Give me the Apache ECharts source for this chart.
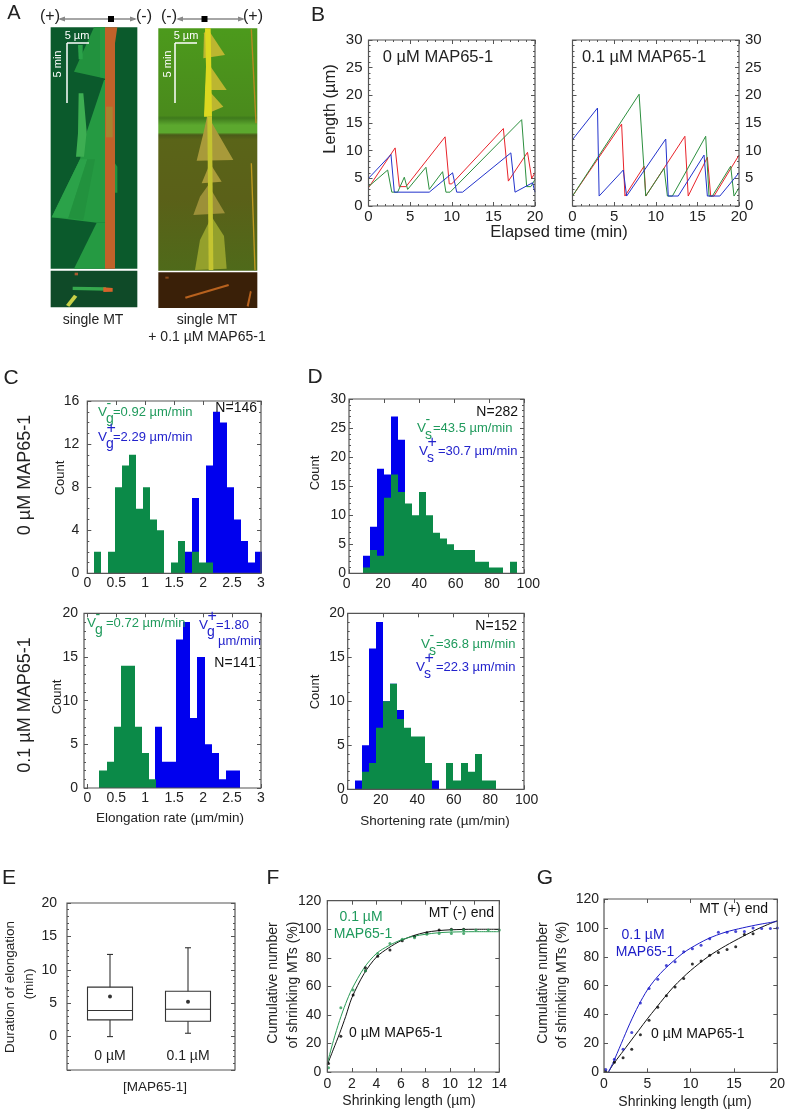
<!DOCTYPE html>
<html><head><meta charset="utf-8">
<style>html,body{margin:0;padding:0;background:#fff}#c{width:789px;height:1114px}</style>
<script src="https://cdn.jsdelivr.net/npm/echarts@6/dist/echarts.min.js"></script>
</head><body><div id="c"></div>
<script>
// ---------- data ----------
const bLeftRed   = [[0,3.3],[3.2,10.5],[3.7,3.5],[4.5,3.5],[9.2,12.5],[9.7,4],[10,4],[16.2,14],[16.8,4.5],[19.1,9.7],[19.6,5],[20,6]];
const bLeftGreen = [[0,3.5],[2.3,6.5],[2.8,2.5],[3.5,2.5],[4.3,5.2],[4.7,3],[6.9,7],[7.3,3],[8.9,6.2],[9.3,2.5],[9.8,2.5],[18.4,15.6],[19,3.5],[19.5,3.5],[20,4.8]];
const bLeftBlue  = [[0,5],[2.7,9.3],[3.1,2.5],[7.3,2.5],[10.1,6],[10.6,2.5],[11.3,2.5],[17.1,9.6],[17.6,2.5],[19.7,4.2],[20,2.5]];
const bRightRed   = [[0,1.8],[5.9,14.8],[6.3,1.8],[8.6,7.2],[8.8,1.8],[13.5,12.6],[13.9,1.8],[16.2,8.8],[16.6,1.8],[17,1.8],[20,9.2]];
const bRightGreen = [[0,1.8],[8,20.2],[8.8,1.8],[11,6.8],[11.4,1.8],[12,1.8],[16,12.6],[16.4,1.8],[16.8,1.8],[19,7.2],[19.4,1.8],[20,3.3]];
const bRightBlue  = [[0,12],[3,17.7],[3.2,1.8],[6.1,6.5],[6.5,1.8],[11.2,12.1],[11.5,1.8],[12.7,1.8],[15.8,9.2],[16.2,1.8],[17.7,1.8],[20,6]];

const cTopGreen = [0,2,0,2,8,10,11,6,8,5,4,0,1,3,0,2,1,1];
const cTopBlue  = [0,0,0,0,0,0,0,0,0,0,0,0,0,0,2,7,0,10,15,14,8,5,3,1,2];
const cTopBin = 0.1205;
const cBotGreen = [2,3,7,14,14,7,4,1];
const cBotBlue  = [7,3,3,17,19,8,15,5,4,1,2,2];
const cBotGreenStart = 0.21, cBotBlueStart = 1.167, cBotBin = 0.1225;

const dTopGreen = [1,4,3,13,17,14,12,10,14,10,7,6,5,4,4,4,2,2,1,1,0,2];
const dTopBlue  = [3,8,18,17,27,23];
const dTopStart = 8, dBin = 4;
const dBotGreen = [0,2,3,7,10,12,8,7,6,6,3,0,0,3,1,3,2,4,1,1];
const dBotBlue  = [1,5,16,19,10,12,9,0,0,0,0,1];
const dBotGreenStart = 4, dBotBlueStart = 4;

const eCats = ['0 µM','0.1 µM'];
const eBoxes = [[0,2.5,3.9,7.4,12.3],[0.5,2.3,4.1,6.8,13.3]];
const eMeans = [6.0,5.2];

const fBlackPts = [[0.1,6],[1.1,25],[2.1,54],[3.1,73],[3.1,71],[4.1,81],[5.1,85.5],[6.1,92],[7.1,95],[8.1,97.5],[9.1,99.5],[10.1,100],[11.1,100]];
const fGreenPts = [[0.1,3],[1.1,45],[2.1,57.5],[3.1,71],[4.1,83],[5.1,90],[6.1,93],[7.1,94],[8.1,96.5],[9.1,97],[10.1,97],[11.1,97],[10.1,99.5],[11.1,99.5],[12.1,99.5],[13.1,99.5],[14,99.5]];
const fBlackCurve = [[0,5],[0.5,16],[1,27],[1.5,39],[2,52],[3,69],[4,80.5],[5,87],[6,92],[7,95.5],[8,97.8],[9,99],[10,99.6],[12,100],[14,100]];
const fGreenCurve = [[0,6],[0.5,22],[1,36],[1.5,48],[2,58],[3,73],[4,83],[5,88.5],[6,92.5],[7,95],[8,96.5],[9,97.5],[10,98],[12,98.3],[14,98.3]];

const gBluePts = [[0.2,2],[1.2,9],[2.2,16],[3.2,27.5],[4.2,48],[5.2,58],[6.2,64.5],[7.2,74],[8.2,76.5],[9.2,83.5],[10.2,85.5],[11.2,88],[12.2,92.5],[13.2,97],[14.2,97],[15.2,97.5],[16.2,97.5],[17.2,100],[18.2,99.5],[19.2,99.5],[20,100]];
const gBlackPts = [[0.2,0.5],[1.2,7],[2.2,10],[3.2,16],[4.2,26],[5.2,36],[6.2,45],[7.2,53],[8.2,59],[9.2,65],[10.2,75],[11.2,77],[12.2,81],[13.2,83],[14.2,85],[15.2,87],[16.2,95.5],[17.2,96]];
const gBlueCurve = [[0.5,0],[1,6],[2,20],[3,34],[4,46.5],[5,57],[6,65],[7,71.5],[8,77],[9,82],[10,86],[12,92.5],[14,97],[16,100],[18,102.5],[20,104.5]];
const gBlackCurve = [[0.5,0],[1,5],[2,13],[3,21],[4,29],[5,37],[6,44.5],[7,52],[8,59],[9,65],[10,70.5],[12,80],[14,87.5],[16,94],[18,100],[20,105]];

// ---------- helpers ----------
const FF = '"Liberation Sans", Arial, sans-serif';
const GREEN='#0b8a48', BLUE='#0000ee', TGREEN='#1f9a5c', TBLUE='#2222cc', INK='#222', FRAME='#555';
const grids=[], xAxes=[], yAxes=[], series=[], gfx=[];

function t(text,x,y,o){o=o||{};
  gfx.push({type:'text',x:x,y:y,rotation:o.rot?Math.PI/2:0,z:30,silent:true,
    style:{text:text,fill:o.color||INK,font:(o.size||14)+'px '+FF,
      textAlign:o.align||'center',textVerticalAlign:'middle'}});
}
function vLab(x,y,color,sub,sup,rest,restX,size){
  t('V',x,y,{color,size:size||13.5,align:'left'});
  t(sup,x+8.5,y-(sup==='+'?8:8),{color,size:sup==='+'?16:14,align:'left'});
  t(sub,x+8,y+7,{color,size:14,align:'left'});
  t(rest,restX,y,{color,size:size||13,align:'left'});
}
function poly(pts,fill){
  gfx.push({type:'polygon',z:1,silent:true,shape:{points:pts.map(p=>[p[0]/3,p[1]/3])},style:{fill:fill}});
}
function rect(x0,y0,x1,y1,fill){
  gfx.push({type:'rect',z:0,silent:true,shape:{x:x0/3,y:y0/3,width:(x1-x0)/3,height:(y1-y0)/3},style:{fill:fill}});
}
function wline(x1,y1,x2,y2){
  gfx.push({type:'line',z:5,silent:true,shape:{x1,y1,x2,y2},style:{stroke:'#fff',lineWidth:1.5}});
}
function panel(c){
  const gi=grids.length, fl=c.frameL==null?c.l:c.frameL, fr=c.frameR==null?c.r:c.frameR;
  grids.push({left:c.l,top:c.t,width:c.r-c.l,height:c.b-c.t,containLabel:false,outerBoundsMode:'none'});
  gfx.push({type:'rect',z:20,silent:true,shape:{x:fl,y:c.t,width:fr-fl,height:c.b-c.t},style:{fill:'none',stroke:FRAME,lineWidth:1.2}});
  const fs=c.fs||14, lab={fontFamily:FF,fontSize:fs,color:INK};
  const xBase=c.xCat?{type:'category',data:c.xCat}:{type:'value',min:c.xMin,max:c.xMax,interval:c.xInt};
  const xi=xAxes.length, yi=yAxes.length;
  const tick={show:!c.xCat,inside:true,length:4,lineStyle:{color:FRAME}};
  const minor={show:!!c.xMinor&&!c.xCat,splitNumber:c.xMinor||1,length:2,lineStyle:{color:FRAME}};
  xAxes.push(Object.assign({},xBase,{gridIndex:gi,position:'bottom',axisLine:{show:false,onZero:false},axisTick:tick,minorTick:minor,splitLine:{show:false},
    axisLabel:Object.assign({},lab,{show:!c.labelSpan,margin:c.xMargin==null?5:c.xMargin,inside:!!c.xCat,hideOverlap:false,showMinLabel:true,showMaxLabel:true})}));
  xAxes.push(Object.assign({},xBase,{gridIndex:gi,position:'top',axisLine:{show:false,onZero:false},axisTick:tick,minorTick:minor,splitLine:{show:false},axisLabel:{show:false}}));
  const ytick={show:true,inside:true,length:4,lineStyle:{color:FRAME}};
  const yminor={show:!!c.yMinor,splitNumber:c.yMinor||1,length:2,lineStyle:{color:FRAME}};
  const yBase={type:'value',min:c.yMin,max:c.yMax,interval:c.yInt,splitLine:{show:false},axisTick:ytick,minorTick:yminor};
  const yLab=Object.assign({},lab,{margin:c.yMargin==null?5:c.yMargin,hideOverlap:false,showMinLabel:true,showMaxLabel:true,
    padding:[0,0,(c.yLift||0)*2,0],formatter:v=>v<0?'':String(v)});
  yAxes.push(Object.assign({},yBase,{gridIndex:gi,position:'left',offset:c.l-fl,axisLine:{show:false,onZero:false},
    axisLabel:Object.assign({},yLab,{show:c.leftLabels!==false})}));
  yAxes.push(Object.assign({},yBase,{gridIndex:gi,position:'right',offset:fr-c.r,axisLine:{show:false,onZero:false},
    axisLabel:Object.assign({},yLab,{show:!!c.rightLabels})}));
  if(c.labelSpan){ // tick labels stand slightly off the plot scale in the reference
    const g2=grids.length;
    grids.push({left:c.labelSpan[0],width:c.labelSpan[1]-c.labelSpan[0],top:c.t,height:c.b-c.t,containLabel:false,outerBoundsMode:'none'});
    xAxes.push({type:'value',gridIndex:g2,position:'bottom',min:c.xMin,max:c.xMax,interval:c.xInt,axisLine:{show:false,onZero:false},axisTick:{show:false},splitLine:{show:false},
      axisLabel:Object.assign({},lab,{margin:c.xMargin==null?5:c.xMargin,showMinLabel:true,showMaxLabel:true})});
    yAxes.push({type:'value',gridIndex:g2,min:0,max:1,show:false});
  }
  return {x:xi,y:yi};
}
function hist(ax,color,start,w,counts,z){
  const data=counts.map((n,i)=>[start+i*w,start+(i+1)*w,n]);
  series.push({type:'custom',xAxisIndex:ax.x,yAxisIndex:ax.y,z:z,clip:true,encode:{x:[0,1],y:2},data:data,
    renderItem:(p,api)=>{
      const a=api.coord([api.value(0),api.value(2)]), b=api.coord([api.value(1),0]);
      const x0=Math.round(a[0]), x1=Math.round(b[0]);
      return {type:'rect',shape:{x:x0,y:a[1],width:x1-x0,height:b[1]-a[1]},style:{fill:color}};
    }});
}
function line(ax,data,color,opt){
  series.push(Object.assign({type:'line',xAxisIndex:ax.x,yAxisIndex:ax.y,data:data,showSymbol:false,symbol:'none',z:5,lineStyle:{color:color,width:1},clip:true},opt||{}));
}
function dots(ax,data,color,size){
  series.push({type:'scatter',xAxisIndex:ax.x,yAxisIndex:ax.y,data:data,symbolSize:size||3,itemStyle:{color:color},z:6,clip:false});
}

// ---------- panel A (micrographs, drawn as shapes) ----------
t('A',14,13,{size:20});
t('(+)',50,17,{size:16}); t('(-)',144,17,{size:16}); t('(-)',169,17,{size:16}); t('(+)',253,17,{size:16});
[[60,135,111],[178,243,204.5]].forEach(a=>{
  gfx.push({type:'line',z:2,silent:true,shape:{x1:a[0],y1:19,x2:a[1],y2:19},style:{stroke:'#888',lineWidth:1.5}});
  gfx.push({type:'polygon',z:2,silent:true,shape:{points:[[a[0]-2,19],[a[0]+5,16.5],[a[0]+5,21.5]]},style:{fill:'#888'}});
  gfx.push({type:'polygon',z:2,silent:true,shape:{points:[[a[1]+2,19],[a[1]-5,16.5],[a[1]-5,21.5]]},style:{fill:'#888'}});
  gfx.push({type:'rect',z:3,silent:true,shape:{x:a[2]-3,y:16,width:6,height:6},style:{fill:'#000'}});
});
// left kymograph
rect(152,82,412,806,'#0b5a2c');
const LG='#259a42', LG2='#2ba249', LG3='#22923e';
poly([[282,82],[322,82],[318,236],[222,215]],LG3);
poly([[300,82],[318,82],[318,236],[300,232]],LG);
poly([[234,135],[248,135],[248,178],[236,178]],LG2);
poly([[312,240],[318,240],[318,668],[290,668],[155,652],[240,478],[252,420]],LG);
poly([[240,478],[262,478],[205,654],[155,652]],LG2);
poly([[262,478],[285,478],[250,660],[205,654]],LG3);
poly([[236,280],[250,280],[260,395],[252,470],[228,470],[234,400]],'#3dae52');
poly([[290,668],[318,668],[318,806],[222,806]],LG);
poly([[338,480],[352,500],[352,578],[338,578]],LG3);
poly([[315,82],[352,82],[345,130],[345,806],[315,806]],'#c0622a');
poly([[318,320],[338,320],[338,412],[318,412]],'#a8822f');
rect(152,812,412,922,'#0f4a28');
poly([[218,860],[318,862],[318,872],[218,870]],'#36a84e');
poly([[310,862],[338,864],[338,875],[310,876]],'#d8622a');
poly([[198,915],[222,884],[232,890],[208,920]],'#c8d048');
poly([[224,818],[234,818],[234,826],[224,826]],'#a85a30');
wline(67,43,67,103); wline(67,43,89,43);
t('5 µm',77,36,{size:11,color:'#fff'});
t('5 min',58,64,{size:11,color:'#fff',rot:true});
t('single MT',93,320,{size:14});
// right kymograph
gfx.push({type:'rect',z:0,silent:true,shape:{x:158.3,y:28.3,width:99,height:242.4},
  style:{fill:{type:'linear',x:0,y:0,x2:0,y2:1,colorStops:[{offset:0,color:'#4c9a1c'},{offset:.36,color:'#4a8a1c'},{offset:.37,color:'#3f7a1c'},{offset:.4,color:'#5ca82e'},{offset:.43,color:'#5ca82e'},{offset:.44,color:'#4a5a18'},{offset:.46,color:'#5a6418'},{offset:.7,color:'#5a6018'},{offset:1,color:'#4f6a1a'}]}}});
poly([[622,85],[675,165],[610,175],[612,100]],'#bcb630');
poly([[625,190],[680,270],[615,270]],'#bcb630');
poly([[625,270],[670,320],[612,345]],'#bcb630');
poly([[622,345],[700,480],[590,482],[612,392]],'#a89a3a');
poly([[630,490],[665,545],[605,550]],'#a89a3a');
poly([[625,555],[675,640],[580,645],[600,590]],'#9c9038');
poly([[635,650],[672,708],[680,806],[585,810],[600,720]],'#94a02c');
poly([[615,85],[632,85],[636,350],[612,350],[618,200]],'#dcd820');
poly([[622,350],[636,350],[640,810],[626,810]],'#c4c430');
poly([[752,88],[756,88],[770,370],[766,370]],'#b88a20');
poly([[752,490],[756,490],[767,810],[763,810]],'#c09a20');
rect(475,817,772,924,'#3a2008');
poly([[555,890],[685,852],[687,858],[557,896]],'#b8621e');
poly([[740,918],[750,872],[755,875],[746,920]],'#b8621e');
poly([[496,830],[506,830],[506,836],[496,836]],'#8a4a18');
wline(175,43,175,103); wline(175,43,197,43);
t('5 µm',186,36,{size:11,color:'#fff'});
t('5 min',168,64,{size:11,color:'#fff',rot:true});
t('single MT',207,320,{size:14});
t('+ 0.1 µM MAP65-1',207,337,{size:14});

// ---------- panel B ----------
t('B',318,15,{size:21});
const bL=panel({l:368.5,r:535,t:40,b:206,xMin:0,xMax:20,xInt:5,xMinor:5,yMin:0,yMax:30,yInt:5,yMinor:5,fs:15,xMargin:3,yMargin:6});
const bR=panel({l:572.5,r:739,t:40,b:206,xMin:0,xMax:20,xInt:5,xMinor:5,yMin:0,yMax:30,yInt:5,yMinor:5,fs:15,xMargin:3,yMargin:6,leftLabels:false,rightLabels:true});
line(bL,bLeftRed,'#e8232a'); line(bL,bLeftGreen,'#2c8f3e'); line(bL,bLeftBlue,'#2233cc');
line(bR,bRightRed,'#e8232a'); line(bR,bRightGreen,'#2c8f3e'); line(bR,bRightBlue,'#2233cc');
t('0 µM MAP65-1',438,57,{size:16.5}); t('0.1 µM MAP65-1',644,57,{size:16.5});
t('Length (µm)',330,109,{size:16.5,rot:true});
t('Elapsed time (min)',559,232,{size:16.5});

// ---------- panel C ----------
t('C',11,378,{size:21});
const cT=panel({l:87.3,r:261,t:401,b:573.3,xMin:0,xMax:3,xInt:0.5,yMin:0,yMax:16,yInt:4,yMinor:4,fs:14,xMargin:3,yMargin:8,yLift:3});
hist(cT,BLUE,0,cTopBin,cTopBlue,3); hist(cT,GREEN,0,cTopBin,cTopGreen,4);
vLab(98,412,TGREEN,'g','-','=0.92 µm/min',113);
vLab(98,437,TBLUE,'g','+','=2.29 µm/min',113);
t('N=146',257,408,{size:14,align:'right',color:'#111'});
t('Count',60,478,{size:13,rot:true});
t('0 µM MAP65-1',25,475,{size:18,rot:true});

const cB=panel({l:87.3,r:261,frameL:84,t:613.3,b:788,xMin:0,xMax:3,xInt:0.5,yMin:0,yMax:20,yInt:5,yMinor:5,fs:14,xMargin:3,yMargin:6,yLift:2.5});
hist(cB,BLUE,cBotBlueStart,cBotBin,cBotBlue,3); hist(cB,GREEN,cBotGreenStart,cBotBin,cBotGreen,4);
vLab(87,623,TGREEN,'g','-','=0.72 µm/min',106);
vLab(199,625,TBLUE,'g','+','=1.80',216);
t('µm/min',218,641,{size:13,align:'left',color:TBLUE});
t('N=141',256,663,{size:14,align:'right',color:'#111'});
t('Count',57,697,{size:13,rot:true});
t('0.1 µM MAP65-1',25,705,{size:18,rot:true});
t('Elongation rate (µm/min)',170,818,{size:13.5});

// ---------- panel D ----------
t('D',315,377,{size:21});
const dT=panel({l:349,r:524,t:399,b:573.3,xMin:0,xMax:100,xInt:20,yMin:0,yMax:30,yInt:5,yMinor:5,fs:14,xMargin:4,yMargin:3,yLift:2.5,labelSpan:[346.7,528.3]});
hist(dT,BLUE,dTopStart,dBin,dTopBlue,3); hist(dT,GREEN,dTopStart,dBin,dTopGreen,4);
t('N=282',518,412,{size:14,align:'right',color:'#111'});
vLab(417,428,TGREEN,'s','-','=43.5 µm/min',433);
vLab(419,451,TBLUE,'s','+','=30.7 µm/min',438);
t('Count',315,473,{size:13,rot:true});

const dB=panel({l:347.7,r:524,t:613.3,b:789.3,xMin:0,xMax:100,xInt:20,yMin:0,yMax:20,yInt:5,yMinor:5,fs:14,xMargin:4,yMargin:3,yLift:2.5,labelSpan:[344.3,526.7]});
hist(dB,BLUE,dBotBlueStart,dBin,dBotBlue,3); hist(dB,GREEN,dBotGreenStart,dBin,dBotGreen,4);
t('N=152',517,626,{size:14,align:'right',color:'#111'});
vLab(421,644,TGREEN,'s','-','=36.8 µm/min',436);
vLab(416,667,TBLUE,'s','+','=22.3 µm/min',436);
t('Count',315,692,{size:13,rot:true});
t('Shortening rate (µm/min)',435,821,{size:13.5});

// ---------- panel E ----------
t('E',9,878,{size:21});
const eA=panel({l:71,r:227,frameL:67,frameR:235,t:903,b:1070,xCat:eCats,yMin:-5,yMax:20,yInt:5,yMinor:5,fs:14,xMargin:7,yMargin:10,yLift:3});
series.push({type:'custom',xAxisIndex:eA.x,yAxisIndex:eA.y,z:5,clip:false,encode:{x:0,y:[1,2,3,4,5]},
  data:eBoxes.map((b,i)=>[i].concat(b)),
  renderItem:(p,api)=>{
    const i=api.value(0), P=v=>api.coord([i,api.value(v)]);
    const mn=P(1),q1=P(2),md=P(3),q3=P(4),mx=P(5),hw=22.5,cap=3;
    const s={stroke:'#333',lineWidth:1.1,fill:null};
    const L=(x1,y1,x2,y2)=>({type:'line',shape:{x1,y1,x2,y2},style:s});
    return {type:'group',children:[
      L(mn[0],mn[1],mn[0],q1[1]),L(mn[0],q3[1],mn[0],mx[1]),
      L(mn[0]-cap,mn[1],mn[0]+cap,mn[1]),L(mn[0]-cap,mx[1],mn[0]+cap,mx[1]),
      {type:'rect',shape:{x:q3[0]-hw,y:q3[1],width:hw*2,height:q1[1]-q3[1]},style:s},
      L(md[0]-hw,md[1],md[0]+hw,md[1])
    ]};
  }});
dots(eA,eMeans.map((m,i)=>[i,m]),'#000',4);
t('Duration of elongation',10,987,{size:13.5,rot:true});
t('(min)',29,984,{size:13.5,rot:true});
t('[MAP65-1]',155,1087,{size:13.5});

// ---------- panel F ----------
t('F',273,878,{size:21});
const fA=panel({l:327.3,r:499.3,t:900.7,b:1072,xMin:0,xMax:14,xInt:2,yMin:0,yMax:120,yInt:20,fs:14,xMargin:5,yMargin:6,yLift:2});
line(fA,fBlackCurve,'#111',{smooth:0.3}); line(fA,fGreenCurve,'#2a9a55',{smooth:0.3});
dots(fA,fBlackPts,'#000',3); dots(fA,fGreenPts,'#2a9a55',3);
t('Cumulative number',273,983,{size:14,rot:true});
t('of shrinking MTs (%)',293,985,{size:14,rot:true});
t('0.1 µM',361,917,{size:14,color:TGREEN}); t('MAP65-1',363,934,{size:14,color:TGREEN});
t('MT (-) end',494,913,{size:14,align:'right',color:'#111'});
t('0 µM MAP65-1',349,1033,{size:14,align:'left',color:'#111'});
t('Shrinking length (µm)',409,1101,{size:14});

// ---------- panel G ----------
t('G',545,878,{size:21});
const gA=panel({l:604,r:777.3,t:899,b:1072.3,xMin:0,xMax:20,xInt:5,yMin:0,yMax:120,yInt:20,fs:14,xMargin:5,yMargin:5,yLift:1});
line(gA,gBlackCurve,'#111',{smooth:0.3}); line(gA,gBlueCurve,'#1c1cc8',{smooth:0.3});
dots(gA,gBlackPts,'#000',3); dots(gA,gBluePts,'#1c1cc8',3);
t('Cumulative number',543,983,{size:14,rot:true});
t('of shrinking MTs (%)',562,985,{size:14,rot:true});
t('0.1 µM',643,935,{size:14,color:'#1c1cc8'}); t('MAP65-1',645,952,{size:14,color:'#1c1cc8'});
t('MT (+) end',768,909,{size:14,align:'right',color:'#111'});
t('0 µM MAP65-1',651,1034,{size:14,align:'left',color:'#111'});
t('Shrinking length (µm)',685,1102,{size:14});

const chart=echarts.init(document.getElementById('c'),null,{renderer:'canvas',width:789,height:1114});
chart.setOption({animation:false,backgroundColor:'#fff',textStyle:{fontFamily:FF},
  grid:grids,xAxis:xAxes,yAxis:yAxes,series:series,graphic:{elements:gfx}});
</script></body></html>
